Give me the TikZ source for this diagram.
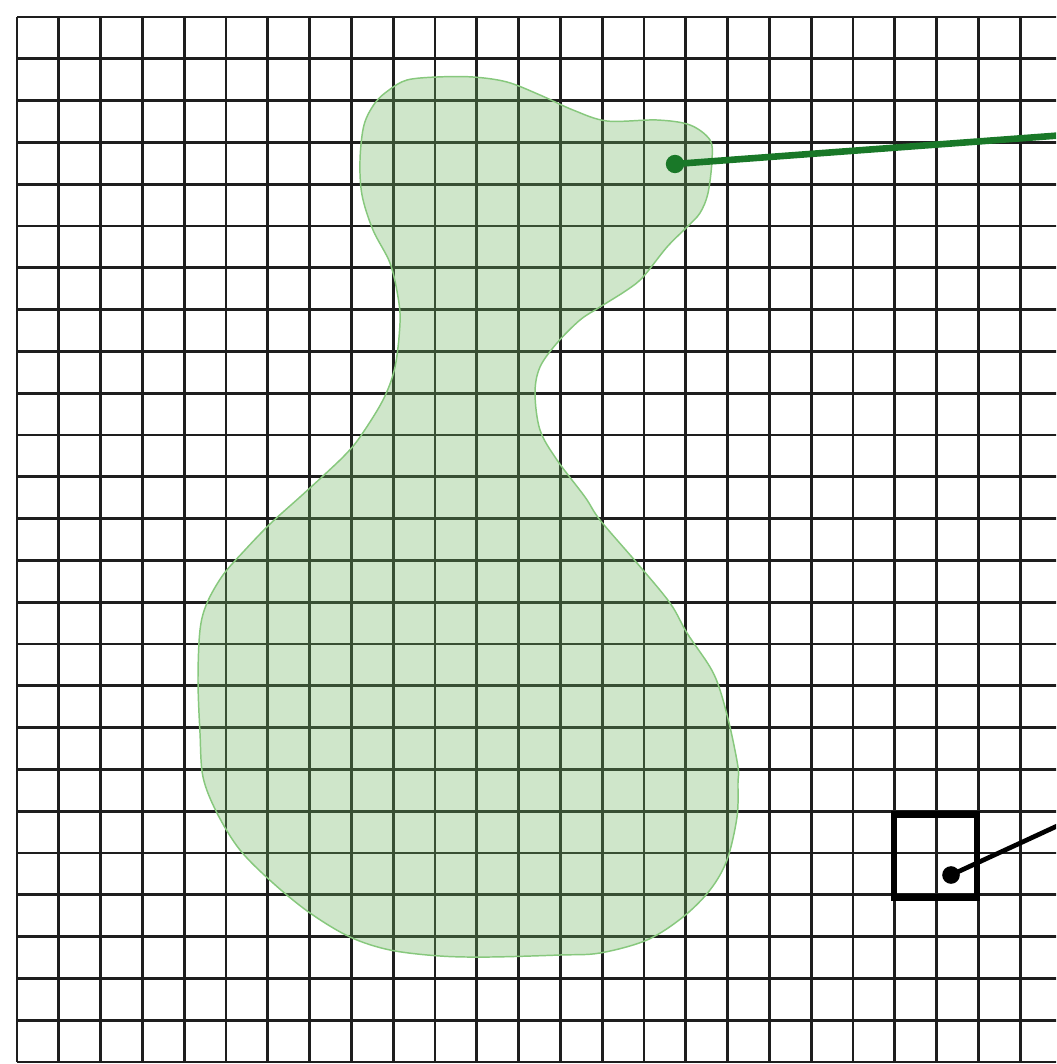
\documentclass[tikz,border=0pt]{standalone}
\usetikzlibrary{calc}
\definecolor{gridc}{RGB}{30,30,30}
\definecolor{blobfill}{RGB}{110,180,95}
\definecolor{blobline}{RGB}{135,200,125}
\definecolor{pathgreen}{RGB}{25,120,40}
\tikzset{
  gridline/.style={draw=gridc, line width=1.9pt},
  blob/.style={fill=blobfill, fill opacity=0.33, draw=blobline, draw opacity=1, line width=1pt},
  gdotstyle/.style={circle, fill=pathgreen, inner sep=0pt, minimum size=12.5pt},
  glink/.style={draw=pathgreen, line width=4.5pt},
  bdotstyle/.style={circle, fill=black, inner sep=0pt, minimum size=12pt},
  blink/.style={draw=black, line width=3.2pt},
  sqstyle/.style={draw=black, line width=4.4pt, inner sep=0pt, minimum size=56.2pt, fill=none},
}
\begin{document}
\begin{tikzpicture}[x=0.023923cm, y=-0.023923cm]
\useasboundingbox (0,0) rectangle (1056,1064);
\fill[white] (0,0) rectangle (1056,1064);
\clip (0,0) rectangle (1056,1064);
% grid
\foreach \i in {0,...,25}{
  \draw[gridline] ({17+41.8*\i},17) -- ({17+41.8*\i},1062);
  \draw[gridline] (17,{17+41.8*\i}) -- (1062,{17+41.8*\i});
}
% blob
\path[blob] plot[smooth cycle, tension=0.55] coordinates {
(407,80) (437,77) (473,77) (507,82) (540,95) (573,110) (607,121) (657,120) (690,125) (710,140) (712,160) (708,193) (700,213) (687,227) (667,247) (643,277) (627,290) (600,307) (580,320) (557,343) (540,367) (535,393) (540,430) (557,460) (585,497) (600,520) (637,563) (670,603) (687,633) (710,667) (720,690) (730,727) (738,767) (738,783) (737,817) (727,860) (710,890) (683,917) (647,940) (600,953) (560,955) (490,957) (440,956) (390,950) (350,937) (310,913) (273,883) (240,850) (217,813) (203,777) (200,733) (198,680) (200,630) (207,603) (223,575) (245,550) (270,524) (300,497) (323,476) (345,455) (360,437) (383,400) (395,367) (400,323) (398,297) (390,263) (373,230) (362,195) (360,160) (364,125) (375,103) (389,90)
};
% green marker and link
\node[gdotstyle] (gdot) at (675,164) {};
\coordinate (gend) at (1200,125);
\draw[glink] (gdot.center) -- (gend);
% black square, marker and link
\node[sqstyle] (sq) at (935.5,856) {};
\node[bdotstyle] (bdot) at (951,875) {};
\coordinate (bend) at (1200,760);
\draw[blink] (bdot.center) -- (bend);
\end{tikzpicture}
\end{document}
